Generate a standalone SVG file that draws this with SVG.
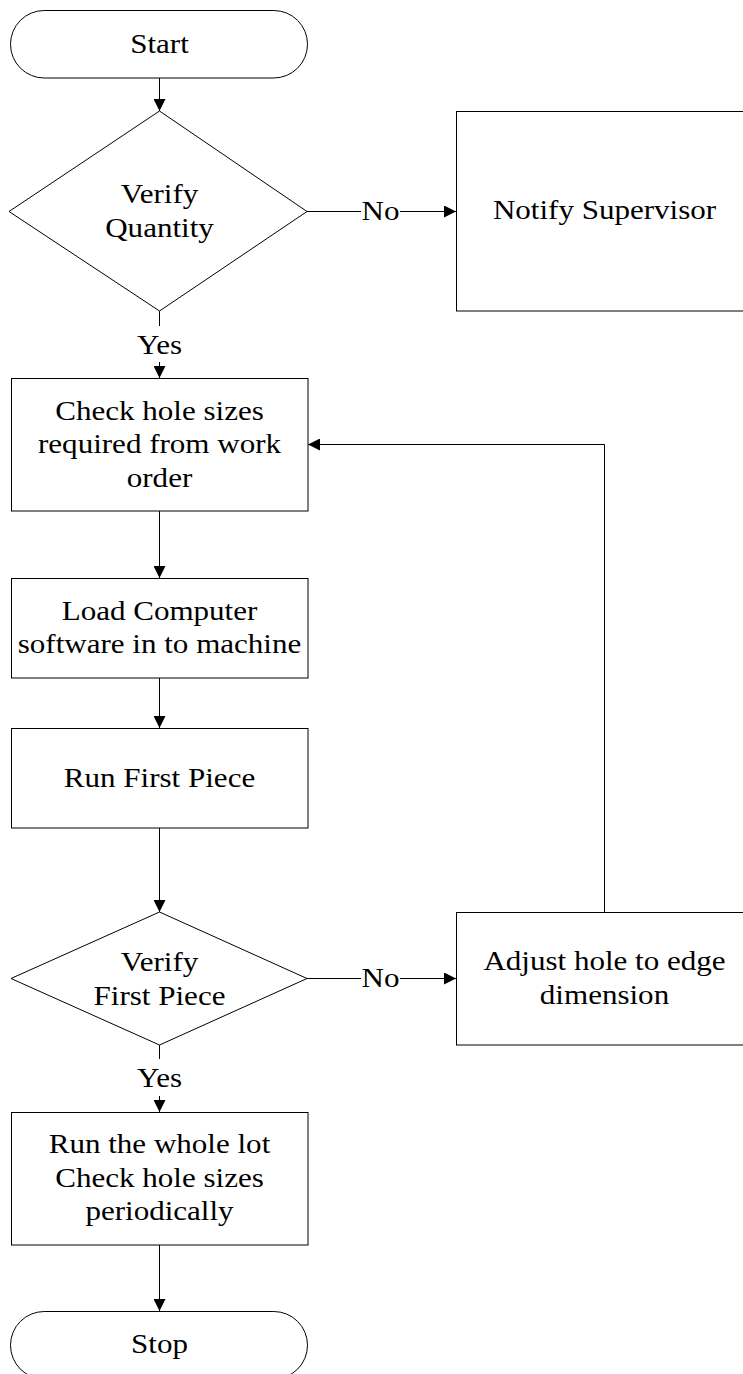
<svg xmlns="http://www.w3.org/2000/svg" width="743" height="1374" viewBox="0 0 743 1374">
  <style>
    .shape { fill: #ffffff; stroke: #000000; stroke-width: 1; }
    .wire { fill: none; stroke: #000000; stroke-width: 1; }
    .label { font-family: "Liberation Serif", "Times New Roman", serif; font-size: 27px; fill: #000000; text-anchor: middle; }
  </style>
  <defs>
    <marker id="arrow" viewBox="0 0 12 12" refX="12" refY="6" markerWidth="12" markerHeight="12" markerUnits="userSpaceOnUse" orient="auto">
      <path d="M0,0 L12,6 L0,12 Z" fill="#000000"/>
    </marker>
  </defs>
  <rect width="743" height="1374" fill="#ffffff"/>

  <!-- connectors -->
  <g id="connectors">
    <line class="wire" x1="159.5" y1="78" x2="159.5" y2="111" marker-end="url(#arrow)"/>
    <!-- Verify Quantity: No -->
    <line class="wire" x1="307" y1="211.5" x2="361" y2="211.5"/>
    <line class="wire" x1="400" y1="211.5" x2="456" y2="211.5" marker-end="url(#arrow)"/>
    <!-- Verify Quantity: Yes -->
    <line class="wire" x1="159.5" y1="311" x2="159.5" y2="326"/>
    <line class="wire" x1="159.5" y1="362" x2="159.5" y2="378" marker-end="url(#arrow)"/>
    <line class="wire" x1="159.5" y1="511" x2="159.5" y2="578" marker-end="url(#arrow)"/>
    <line class="wire" x1="159.5" y1="678" x2="159.5" y2="728" marker-end="url(#arrow)"/>
    <line class="wire" x1="159.5" y1="828" x2="159.5" y2="912" marker-end="url(#arrow)"/>
    <!-- Verify First Piece: No -->
    <line class="wire" x1="307" y1="978.5" x2="361" y2="978.5"/>
    <line class="wire" x1="400" y1="978.5" x2="456" y2="978.5" marker-end="url(#arrow)"/>
    <!-- loop back from adjustment to hole size check -->
    <polyline class="wire" points="604.5,912 604.5,444.5 308,444.5" marker-end="url(#arrow)"/>
    <!-- Verify First Piece: Yes -->
    <line class="wire" x1="159.5" y1="1045" x2="159.5" y2="1059"/>
    <line class="wire" x1="159.5" y1="1096" x2="159.5" y2="1112" marker-end="url(#arrow)"/>
    <line class="wire" x1="159.5" y1="1245" x2="159.5" y2="1311" marker-end="url(#arrow)"/>
    <text class="label" transform="translate(380.5 0) scale(1.15 1)" x="0" y="220.5">No</text>
    <text class="label" transform="translate(380.5 0) scale(1.15 1)" x="0" y="987.5">No</text>
    <text class="label" transform="translate(159.5 0) scale(1.15 1)" x="0" y="354">Yes</text>
    <text class="label" transform="translate(159.5 0) scale(1.15 1)" x="0" y="1087">Yes</text>
  </g>

  <g id="start">
    <rect class="shape" x="10.5" y="10.5" width="297" height="67.5" rx="33.75" ry="33.75"/>
    <text class="label" transform="translate(159.5 0) scale(1.15 1)" x="0" y="53">Start</text>
  </g>

  <g id="verify-quantity">
    <polygon class="shape" points="159.5,111 307,211.5 159.5,311 9,211.5"/>
    <g class="label" transform="translate(159.5 0) scale(1.15 1)">
      <text x="0" y="203">Verify</text>
      <text x="0" y="237">Quantity</text>
    </g>
  </g>

  <g id="notify-supervisor">
    <rect class="shape" x="456.5" y="111.5" width="296" height="199.5"/>
    <text class="label" transform="translate(604.5 0) scale(1.15 1)" x="0" y="219.5">Notify Supervisor</text>
  </g>

  <g id="check-hole-sizes">
    <rect class="shape" x="11.5" y="378.5" width="296.5" height="132.5"/>
    <g class="label" transform="translate(159.5 0) scale(1.15 1)">
      <text x="0" y="420">Check hole sizes</text>
      <text x="0" y="453.5">required from work</text>
      <text x="0" y="487">order</text>
    </g>
  </g>

  <g id="load-software">
    <rect class="shape" x="11.5" y="578.5" width="296.5" height="99.5"/>
    <g class="label" transform="translate(159.5 0) scale(1.15 1)">
      <text x="0" y="620">Load Computer</text>
      <text x="0" y="653.5">software in to machine</text>
    </g>
  </g>

  <g id="run-first-piece">
    <rect class="shape" x="11.5" y="728.5" width="296.5" height="99.5"/>
    <text class="label" transform="translate(159.5 0) scale(1.15 1)" x="0" y="787.5">Run First Piece</text>
  </g>

  <g id="verify-first-piece">
    <polygon class="shape" points="159.5,912 307,978.5 159.5,1045 11,978.5"/>
    <g class="label" transform="translate(159.5 0) scale(1.15 1)">
      <text x="0" y="971">Verify</text>
      <text x="0" y="1005">First Piece</text>
    </g>
  </g>

  <g id="adjust-hole">
    <rect class="shape" x="456.5" y="912.5" width="296" height="132.5"/>
    <g class="label" transform="translate(604.5 0) scale(1.15 1)">
      <text x="0" y="970.5">Adjust hole to edge</text>
      <text x="0" y="1004.5">dimension</text>
    </g>
  </g>

  <g id="run-whole-lot">
    <rect class="shape" x="11.5" y="1112.5" width="296.5" height="132.5"/>
    <g class="label" transform="translate(159.5 0) scale(1.15 1)">
      <text x="0" y="1153.5">Run the whole lot</text>
      <text x="0" y="1187">Check hole sizes</text>
      <text x="0" y="1220.5">periodically</text>
    </g>
  </g>

  <g id="stop">
    <rect class="shape" x="10.5" y="1311.5" width="297" height="67.5" rx="33.75" ry="33.75"/>
    <text class="label" transform="translate(159.5 0) scale(1.15 1)" x="0" y="1353">Stop</text>
  </g>
</svg>
